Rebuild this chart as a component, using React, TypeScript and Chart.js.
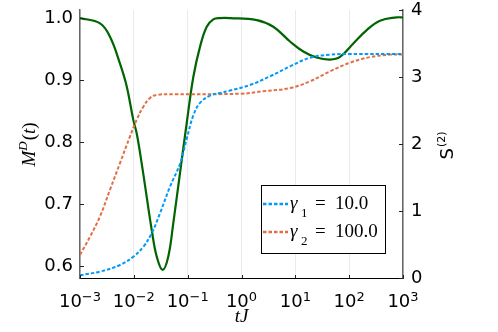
import React, { useEffect, useRef } from 'react';
import { Chart, registerables } from 'chart.js';

Chart.register(...registerables);

// x positions are log10(tJ)
const xDecades = [-3, -2, -1, 0, 1, 2, 3];
const leftTicks = [0.6, 0.7, 0.8, 0.9, 1.0];
const rightTicks = [0, 1, 2, 3, 4];

const blueLogT = [-3, -2.628, -2.257, -2.010, -1.824, -1.668, -1.514, -1.328, -1.142, -1.018, -0.895, -0.771, -0.585, -0.399, -0.213, 0.158, 0.530, 0.901, 1.273, 1.644, 2.0, 3];
const blueM = [0.585, 0.591, 0.6016, 0.615, 0.631, 0.653, 0.685, 0.728, 0.765, 0.805, 0.843, 0.863, 0.875, 0.879, 0.883, 0.892, 0.906, 0.922, 0.936, 0.941, 0.942, 0.942];

const orangeLogT = [-3, -2.815, -2.628, -2.443, -2.257, -2.071, -1.947, -1.824, -1.700, -1.575, -1.267, 0, 0.405, 0.901, 1.273, 1.644, 2.016, 2.387, 2.759, 3];
const orangeM = [0.618, 0.647, 0.680, 0.723, 0.766, 0.809, 0.836, 0.857, 0.871, 0.876, 0.877, 0.878, 0.882, 0.887, 0.898, 0.914, 0.928, 0.937, 0.941, 0.941];

const greenLogT = [-3, -2.628, -2.443, -2.257, -2.132, -2.010, -1.947, -1.854, -1.761, -1.668, -1.575, -1.464, -1.360, -1.267, -1.142, -1.018, -0.895, -0.771, -0.646, -0.524, -0.399, -0.213, 0.283, 0.591, 0.901, 1.148, 1.395, 1.644, 1.830, 2.077, 2.326, 2.573, 2.883, 3];
const greenS = [3.88, 3.80, 3.60, 3.20, 2.86, 2.36, 2.16, 1.71, 1.21, 0.72, 0.32, 0.12, 0.32, 0.82, 1.57, 2.31, 3.0, 3.45, 3.75, 3.86, 3.88, 3.88, 3.85, 3.75, 3.53, 3.38, 3.29, 3.26, 3.30, 3.50, 3.70, 3.84, 3.89, 3.89];

const legendSubs = ['1', '2'];
const legendValues = ['10.0', '100.0'];

const BLUE = '#009AFA';
const ORANGE = '#E36F47';
const GREEN = '#006400';

const toPoints = (lt: number[], v: number[]) => lt.map((l, i) => ({ x: Math.pow(10, l), y: v[i] }));

const decor = {
  id: 'decor',
  afterDraw(chart: any) {
    const { ctx, chartArea: ca, scales } = chart;
    ctx.save();
    // inward tick marks
    ctx.strokeStyle = '#222';
    ctx.lineWidth = 1;
    ctx.beginPath();
    leftTicks.forEach((v) => {
      const y = Math.round(scales.y.getPixelForValue(v)) + 0.5;
      ctx.moveTo(ca.left, y);
      ctx.lineTo(ca.left + 4, y);
    });
    rightTicks.forEach((v) => {
      const y = Math.round(scales.y2.getPixelForValue(v)) + 0.5;
      ctx.moveTo(ca.right, y);
      ctx.lineTo(ca.right - 4, y);
    });
    xDecades.forEach((d) => {
      const x = Math.round(scales.x.getPixelForValue(Math.pow(10, d))) + 0.5;
      ctx.moveTo(x, ca.bottom);
      ctx.lineTo(x, ca.bottom - 3);
    });
    ctx.stroke();

    // x tick labels 10^n
    ctx.fillStyle = '#000';
    ctx.textBaseline = 'alphabetic';
    ctx.textAlign = 'left';
    xDecades.forEach((d) => {
      const x = scales.x.getPixelForValue(Math.pow(10, d));
      const exp = d < 0 ? '\u2212' + Math.abs(d) : String(d);
      ctx.font = '18px "DejaVu Sans"';
      const w10 = ctx.measureText('10').width;
      ctx.font = '13px "DejaVu Sans"';
      const we = ctx.measureText(exp).width;
      const start = x - (w10 + we) / 2;
      ctx.font = '18px "DejaVu Sans"';
      ctx.fillText('10', start, ca.bottom + 28.5);
      ctx.font = '13px "DejaVu Sans"';
      ctx.fillText(exp, start + w10, ca.bottom + 22.5);
    });

    // x title
    ctx.font = 'italic 19px "Liberation Serif"';
    ctx.textAlign = 'center';
    ctx.fillText('tJ', (ca.left + ca.right) / 2, ca.bottom + 44);

    // left title M^D(t)
    ctx.save();
    ctx.translate(35, 145);
    ctx.rotate(-Math.PI / 2);
    ctx.textAlign = 'left';
    const parts: [string, string, number][] = [
      ['M', 'italic 19px "Liberation Serif"', 0],
      ['D', 'italic 13px "Liberation Serif"', -8],
      ['(', '19px "Liberation Serif"', 0],
      ['t', 'italic 19px "Liberation Serif"', 0],
      [')', '19px "Liberation Serif"', 0],
    ];
    let total = 0;
    parts.forEach(([t, f]) => { ctx.font = f; total += ctx.measureText(t).width; });
    let px = -total / 2;
    parts.forEach(([t, f, dy]) => {
      ctx.font = f;
      ctx.fillText(t, px, dy);
      px += ctx.measureText(t).width + (t === 'D' ? 1 : 0);
    });
    ctx.restore();

    // right title S^(2)
    ctx.save();
    ctx.translate(453, 146);
    ctx.rotate(-Math.PI / 2);
    ctx.textAlign = 'left';
    ctx.font = '18px "DejaVu Sans"';
    const ws = ctx.measureText('S').width;
    ctx.font = '11px "DejaVu Sans"';
    const wp = ctx.measureText('(2)').width;
    const sx = -(ws + wp) / 2;
    ctx.font = '18px "DejaVu Sans"';
    ctx.fillText('S', sx, 0);
    ctx.font = '11px "DejaVu Sans"';
    ctx.fillText('(2)', sx + ws + 1, -8);
    ctx.restore();

    // legend
    const bx = ca.right - 142;
    const by = ca.top + 175;
    ctx.fillStyle = '#fff';
    ctx.fillRect(bx, by, 124, 68);
    ctx.strokeStyle = '#000';
    ctx.lineWidth = 1;
    ctx.strokeRect(bx + 0.5, by + 0.5, 124, 68);
    const colors = [BLUE, ORANGE];
    legendSubs.forEach((sub, i) => {
      const ly = by + 19 + i * 28;
      ctx.strokeStyle = colors[i];
      ctx.lineWidth = 2.5;
      ctx.setLineDash([3.5, 2]);
      ctx.beginPath();
      ctx.moveTo(bx + 2, ly);
      ctx.lineTo(bx + 27, ly);
      ctx.stroke();
      ctx.setLineDash([]);
      ctx.fillStyle = '#000';
      ctx.textAlign = 'left';
      const base = ly + 5;
      ctx.font = 'italic 19px "Liberation Serif"';
      ctx.fillText('\u03B3', bx + 29, base);
      ctx.font = '13px "Liberation Serif"';
      ctx.fillText(sub, bx + 40, base + 8);
      ctx.font = '19px "Liberation Serif"';
      ctx.fillText('=', bx + 54, base);
      ctx.fillText(legendValues[i], bx + 74, base);
    });
    ctx.restore();
  },
};

export default function App() {
  const ref = useRef<HTMLCanvasElement | null>(null);
  useEffect(() => {
    if (!ref.current) return;
    const chart = new Chart(ref.current, {
      type: 'line',
      data: {
        datasets: [
          {
            label: 'γ1 = 10.0',
            data: toPoints(blueLogT, blueM),
            borderColor: BLUE,
            borderWidth: 2,
            borderDash: [3.5, 2],
            pointRadius: 0,
            tension: 0.4,
            yAxisID: 'y',
          },
          {
            label: 'γ2 = 100.0',
            data: toPoints(orangeLogT, orangeM),
            borderColor: ORANGE,
            borderWidth: 2,
            borderDash: [3.5, 2],
            pointRadius: 0,
            tension: 0.4,
            yAxisID: 'y',
          },
          {
            label: 'S2',
            data: toPoints(greenLogT, greenS),
            borderColor: GREEN,
            borderWidth: 2.2,
            pointRadius: 0,
            tension: 0.4,
            yAxisID: 'y2',
          },
        ],
      },
      options: {
        animation: false,
        responsive: false,
        parsing: false as any,
        layout: { padding: { top: 10, left: 0, right: 0, bottom: 0 } },
        plugins: { legend: { display: false }, tooltip: { enabled: false } },
        scales: {
          x: {
            type: 'logarithmic',
            min: 1e-3,
            max: 1e3,
            afterBuildTicks: (s: any) => { s.ticks = xDecades.map((d) => ({ value: Math.pow(10, d) })); },
            afterFit: (s: any) => { s.height = 54; s.paddingLeft = 0; s.paddingRight = 0; },
            ticks: { display: false },
            grid: { color: 'rgba(0,0,0,0.08)', lineWidth: 1, drawTicks: false },
            border: { color: '#000', width: 1 },
          },
          y: {
            type: 'linear',
            position: 'left',
            min: 0.5806,
            max: 1.013,
            afterBuildTicks: (s: any) => { s.ticks = leftTicks.map((v) => ({ value: v })); },
            afterFit: (s: any) => { s.width = 80; s.paddingTop = 0; s.paddingBottom = 0; },
            ticks: {
              padding: 7,
              color: '#000',
              font: { family: 'DejaVu Sans', size: 18 },
              callback: (v: any) => Number(v).toFixed(1),
            },
            grid: { display: false, drawTicks: false },
            border: { color: '#666', width: 1.5 },
          },
          y2: {
            type: 'linear',
            position: 'right',
            min: 0,
            max: 4,
            afterBuildTicks: (s: any) => { s.ticks = rightTicks.map((v) => ({ value: v })); },
            afterFit: (s: any) => { s.width = 95; s.paddingTop = 0; s.paddingBottom = 0; },
            ticks: {
              padding: 8,
              color: '#000',
              font: { family: 'DejaVu Sans', size: 18 },
              callback: (v: any) => String(v),
            },
            grid: { display: false, drawTicks: false },
            border: { color: '#666', width: 1.5 },
          },
        },
      },
      plugins: [decor],
    } as any);
    return () => chart.destroy();
  }, []);
  return (
    <div style={{ position: 'fixed', left: 0, top: 0, width: 498, height: 332, background: '#fff' }}>
      <canvas ref={ref} width={498} height={332} />
    </div>
  );
}
